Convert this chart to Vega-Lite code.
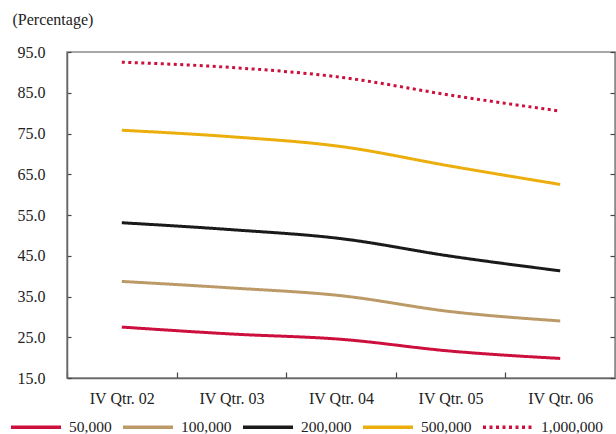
{
  "$schema": "https://vega.github.io/schema/vega-lite/v6.json",
  "width": 548,
  "height": 326,
  "autosize": {"type": "none"},
  "padding": {"left": 67, "top": 52, "right": 1, "bottom": 56},
  "background": "white",
  "config": {
    "font": "Liberation Serif",
    "view": {"stroke": "#8c8c8c", "strokeWidth": 1.5},
    "axis": {
      "labelFont": "Liberation Serif",
      "labelFontSize": 16,
      "labelColor": "#222222",
      "titleFont": "Liberation Serif",
      "titleFontSize": 16,
      "titleFontWeight": "normal",
      "titleColor": "#222222",
      "domainColor": "#666666",
      "domainWidth": 1.5,
      "tickColor": "#444444",
      "tickWidth": 1.2,
      "grid": false
    }
  },
  "data": {
    "values": [
      {"quarter": "IV Qtr. 02", "series": "50,000", "value": 27.5},
      {"quarter": "IV Qtr. 03", "series": "50,000", "value": 25.8},
      {"quarter": "IV Qtr. 04", "series": "50,000", "value": 24.5},
      {"quarter": "IV Qtr. 05", "series": "50,000", "value": 21.6},
      {"quarter": "IV Qtr. 06", "series": "50,000", "value": 19.8},
      {"quarter": "IV Qtr. 02", "series": "100,000", "value": 38.7},
      {"quarter": "IV Qtr. 03", "series": "100,000", "value": 37.1},
      {"quarter": "IV Qtr. 04", "series": "100,000", "value": 35.2},
      {"quarter": "IV Qtr. 05", "series": "100,000", "value": 31.3},
      {"quarter": "IV Qtr. 06", "series": "100,000", "value": 29.0},
      {"quarter": "IV Qtr. 02", "series": "200,000", "value": 53.1},
      {"quarter": "IV Qtr. 03", "series": "200,000", "value": 51.4},
      {"quarter": "IV Qtr. 04", "series": "200,000", "value": 49.2},
      {"quarter": "IV Qtr. 05", "series": "200,000", "value": 44.9},
      {"quarter": "IV Qtr. 06", "series": "200,000", "value": 41.3},
      {"quarter": "IV Qtr. 02", "series": "500,000", "value": 75.8},
      {"quarter": "IV Qtr. 03", "series": "500,000", "value": 74.2},
      {"quarter": "IV Qtr. 04", "series": "500,000", "value": 71.8},
      {"quarter": "IV Qtr. 05", "series": "500,000", "value": 67.0},
      {"quarter": "IV Qtr. 06", "series": "500,000", "value": 62.5},
      {"quarter": "IV Qtr. 02", "series": "1,000,000", "value": 92.5},
      {"quarter": "IV Qtr. 03", "series": "1,000,000", "value": 91.2},
      {"quarter": "IV Qtr. 04", "series": "1,000,000", "value": 88.8},
      {"quarter": "IV Qtr. 05", "series": "1,000,000", "value": 84.4},
      {"quarter": "IV Qtr. 06", "series": "1,000,000", "value": 80.5}
    ]
  },
  "layer": [
    {
      "mark": {"type": "line", "interpolate": "monotone", "strokeWidth": 3},
      "encoding": {
        "x": {
          "field": "quarter",
          "type": "ordinal",
          "sort": null,
          "scale": {"type": "band", "paddingInner": 0, "paddingOuter": 0},
          "axis": {
            "title": null,
            "labelAngle": 0,
            "tickBand": "extent",
            "tickSize": -6,
            "labelPadding": 18
          }
        },
        "y": {
          "field": "value",
          "type": "quantitative",
          "scale": {"domain": [15, 95], "nice": false, "zero": false},
          "axis": {
            "values": [15, 25, 35, 45, 55, 65, 75, 85, 95],
            "format": ".1f",
            "tickSize": -4,
            "labelPadding": 26,
            "title": "(Percentage)",
            "titleAngle": 0,
            "titleAlign": "left",
            "titleBaseline": "alphabetic",
            "titleX": -55,
            "titleY": -28
          }
        },
        "color": {
          "field": "series",
          "type": "nominal",
          "scale": {
            "domain": ["50,000", "100,000", "200,000", "500,000", "1,000,000"],
            "range": ["#cc0f3c", "#bc9a68", "#1a1a1a", "#ebae0c", "#cc0f3c"]
          },
          "legend": {
            "title": null,
            "orient": "none",
            "legendX": -58,
            "legendY": 348,
            "direction": "horizontal",
            "columns": 5,
            "columnPadding": 4,
            "symbolType": "stroke",
            "symbolSize": 2500,
            "symbolStrokeWidth": 3.5,
            "labelFont": "Liberation Serif",
            "labelFontSize": 15.5,
            "labelColor": "#222222",
            "labelOffset": 6
          }
        },
        "strokeDash": {
          "field": "series",
          "type": "nominal",
          "scale": {
            "domain": ["50,000", "100,000", "200,000", "500,000", "1,000,000"],
            "range": [[1, 0], [1, 0], [1, 0], [1, 0], [3, 3.5]]
          },
          "legend": null
        }
      }
    },
    {
      "mark": {"type": "line", "opacity": 0},
      "encoding": {
        "x": {"field": "quarter", "type": "ordinal", "sort": null},
        "y": {
          "field": "value",
          "type": "quantitative",
          "axis": {
            "orient": "right",
            "values": [15, 25, 35, 45, 55, 65, 75, 85, 95],
            "labels": false,
            "title": null,
            "tickSize": -5,
            "domainColor": "#8c8c8c"
          }
        },
        "detail": {"field": "series"}
      }
    }
  ],
  "resolve": {"axis": {"y": "independent"}}
}
